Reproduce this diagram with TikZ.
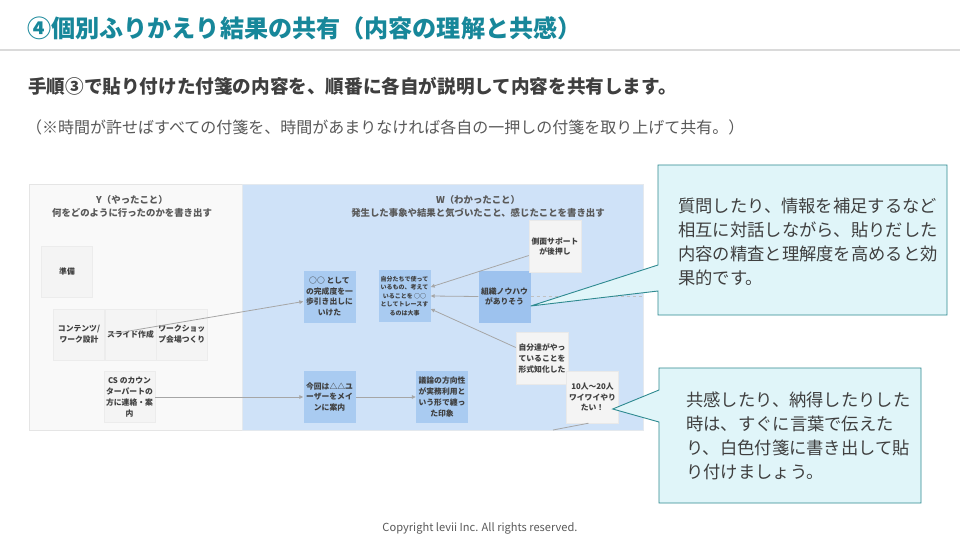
\documentclass[tikz,border=0pt]{standalone}
\usepackage{fontspec}
\setmainfont{Noto Sans CJK JP}
\usepackage{tikz}
\usetikzlibrary{arrows.meta, positioning}
\definecolor{titleteal}{HTML}{17879A}
\definecolor{textdark}{HTML}{3F3F3F}
\definecolor{textgray}{HTML}{595959}
\definecolor{rulegray}{HTML}{DADADA}
\definecolor{panelgray}{HTML}{F9F9F9}
\definecolor{panelblue}{HTML}{CFE2F8}
\definecolor{noteblue}{HTML}{A9CBF1}
\definecolor{notedeep}{HTML}{9DC2EE}
\definecolor{notewhite}{HTML}{F4F4F4}
\definecolor{linkgray}{HTML}{A6A6A6}
\definecolor{callfill}{HTML}{E0F5F9}
\definecolor{callline}{HTML}{2E8A90}

\begin{document}
\begin{tikzpicture}[x=1pt, y=-1pt,
    every node/.style={inner sep=0pt, text=textdark},
    panel/.style={rectangle, minimum height=246pt, draw=rulegray!70},
    phead/.style={font=\fontsize{9.4}{13}\selectfont\bfseries, text=textgray, align=center},
    note/.style={rectangle, minimum width=52pt, minimum height=52pt, align=center, font=\fontsize{7.8}{10.8}\selectfont\bfseries},
    cell/.style={rectangle, fill=notewhite, draw=rulegray!50, minimum width=51pt, minimum height=51pt, align=center, font=\fontsize{7.8}{10.8}\selectfont\bfseries},
    flow/.style={-{Triangle[length=4pt, width=3.6pt]}, linkgray, line width=0.8pt},
    callout/.style={fill=callfill, draw=callline, line width=0.9pt},
    calltext/.style={anchor=west, align=left, font=\fontsize{17.3}{23.8}\selectfont}
]
\useasboundingbox (0,0) rectangle (960,540);
\fill[white] (0,0) rectangle (960,540);

% Heading
\node[anchor=west, font=\fontsize{24.1}{27}\selectfont\bfseries, text=titleteal] (title) at (27,28) {④個別ふりかえり結果の共有（内容の理解と共感）};
\draw[rulegray, line width=2.5pt] (0,50) -- (960,50);
\node[anchor=west, font=\fontsize{18.6}{21}\selectfont\bfseries, text=textdark] (lead) at (28,86) {手順③で貼り付けた付箋の内容を、順番に各自が説明して内容を共有します。};
\node[anchor=west, font=\fontsize{16}{19}\selectfont, text=textgray] (note0) at (26,127) {（※時間が許せばすべての付箋を、時間があまりなければ各自の一押しの付箋を取り上げて共有。）};

% Panels
\node[panel, fill=panelgray, minimum width=213pt] (panelY) at (135.5,307) {};
\node[panel, fill=panelblue, minimum width=401pt, draw=panelblue!80!black!30] (panelW) at (442.5,307) {};
\node[phead] (headY) at (132,206.5) {Y（やったこと）\\何をどのように行ったのかを書き出す};
\node[phead] (headW) at (478,206.5) {W（わかったこと）\\発生した事象や結果と気づいたこと、感じたことを書き出す};

% Y notes
\node[cell] (prep) at (67,271.5) {準備};
\node[cell] (content) at (79,334.5) {コンテンツ/\\ワーク設計};
\node[cell, right=0pt of content] (slide) {スライド作成};
\node[cell, right=0pt of slide] (venue) {ワークショッ\\プ会場つくり};
\node[cell] (cs) at (129.5,397) {CS のカウン\\ターパートの\\方に連絡・案\\内};

% W notes
\node[note, fill=noteblue] (done) at (329.5,296.5) {○○ として\\の完成度を一\\歩引き出しに\\いけた};
\node[note, fill=noteblue, font=\fontsize{6}{8.6}\selectfont\bfseries] (trace) at (404.5,296) {自分たちで使って\\いるもの、考えて\\いることを ○○\\としてトレースす\\るのは大事};
\node[note, fill=notedeep] (knowhow) at (504.5,296.5) {組織ノウハウ\\がありそう};
\node[note, fill=notewhite, draw=rulegray!60] (support) at (555,246.5) {側面サポート\\が後押し};
\node[note, fill=notewhite, draw=rulegray!60] (formal) at (542,358.5) {自分達がやっ\\ていることを\\形式知化した};
\node[note, fill=noteblue] (guide) at (329.5,397) {今回は△△ユ\\ーザーをメイ\\ンに案内};
\node[note, fill=noteblue] (impress) at (442,397) {議論の方向性\\が実務利用と\\いう形で纏っ\\た印象};
\node[note, fill=notewhite, draw=rulegray!60] (lively) at (592.5,397) {10人〜20人\\ワイワイやり\\たい！};

% Links
\draw[flow] ([xshift=-22pt]slide.center) -- ([yshift=-5pt]done.west);
\draw[flow] (cs.east) -- (guide.west);
\draw[flow] (guide.east) -- (impress.west);
\draw[flow] ([yshift=-9pt]support.west) -- ([yshift=9pt]trace.east);
\draw[flow] (knowhow.west) -- (trace.east);
\draw[flow] ([yshift=11pt]formal.west) -- ([yshift=-13pt]trace.east);
\draw[linkgray!70, dashed, line width=0.7pt] (knowhow.east) -- (knowhow.east -| panelW.east);
\coordinate (cut) at (553,430);
\draw[linkgray, line width=0.8pt] ([xshift=-4pt]lively.south) -- (cut);

% Callouts
\coordinate (tipA) at ([yshift=-9.5pt]knowhow.east);
\coordinate (tipB) at ([xshift=-6pt, yshift=-12pt]lively.east);
\draw[callout] (658,165) -- (947,165) -- (947,315) -- (658,315) -- (658,291) -- (tipA) -- (658,265) -- cycle;
\draw[callout] (659,368) -- (921,368) -- (921,503) -- (659,503) -- (659,422) -- (tipB) -- (659,390) -- cycle;
\node[calltext] (askbox) at (678,242) {質問したり、情報を補足するなど\\相互に対話しながら、貼りだした\\内容の精査と理解度を高めると効\\果的です。};
\node[calltext] (agreebox) at (686,436) {共感したり、納得したりした\\時は、すぐに言葉で伝えた\\り、白色付箋に書き出して貼\\り付けましょう。};

% Footer
\node[font=\fontsize{11.1}{13}\selectfont, text=textgray] (copy) at (480,528) {Copyright levii Inc. All rights reserved.};
\end{tikzpicture}
\end{document}
